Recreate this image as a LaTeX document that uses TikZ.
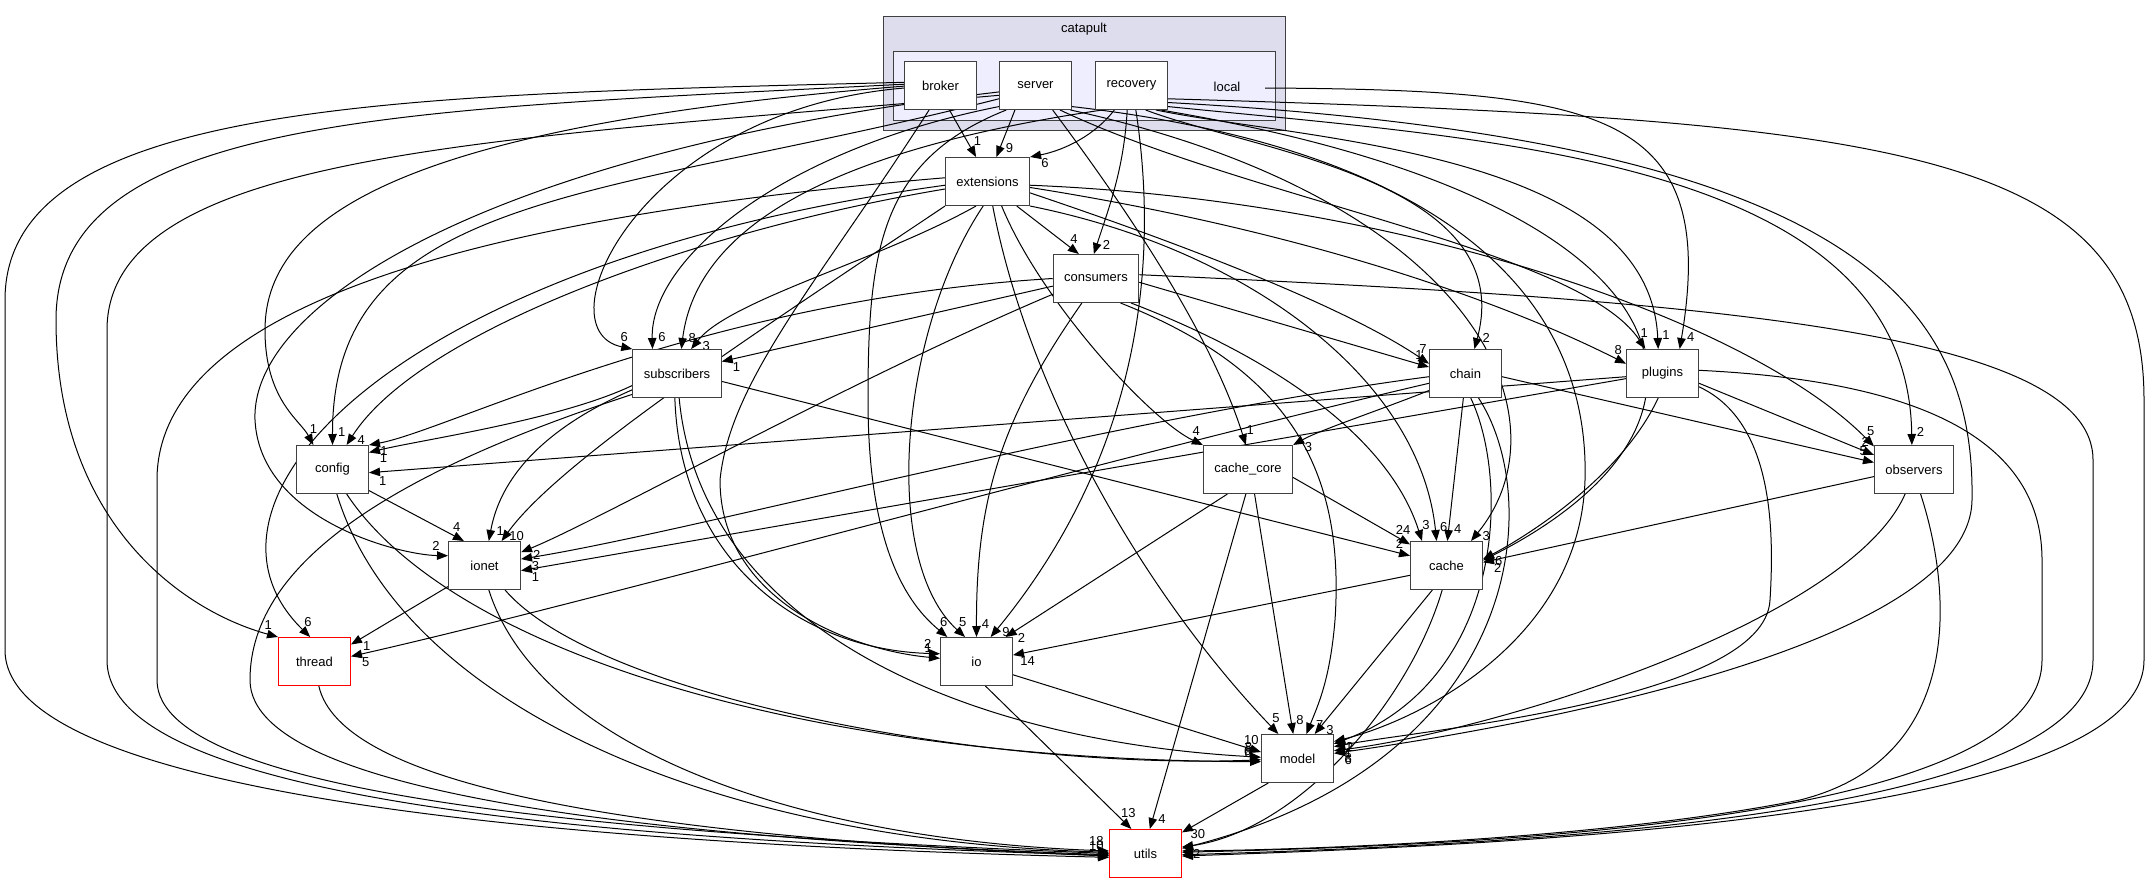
\documentclass[tikz,border=0pt]{standalone}
\usepackage{fontspec}
\setmainfont{Liberation Sans}
\usetikzlibrary{arrows.meta,decorations.markings,backgrounds}
\definecolor{clouter}{HTML}{DDDDEE}
\definecolor{clinner}{HTML}{EEEEFF}
\begin{document}
\begin{tikzpicture}[x=1pt,y=1pt,
  dirnode/.style={draw=black!75, line width=1pt, fill=white, minimum width=72pt, minimum height=48pt, inner xsep=11pt, inner ysep=0pt, font=\fontsize{13}{15}\selectfont},
  rednode/.style={dirnode, draw=red},
  dep/.style={draw=black, line width=1pt, -{Triangle[length=11pt,width=8.5pt]}},
  labf/.style={inner sep=0pt, font=\fontsize{13}{15}\selectfont},
  lb/.style={postaction={decorate}, decoration={markings, mark=at position -13pt with {\node[labf] at (0,9pt) {#1};}}},
  cltext/.style={font=\fontsize{13}{15}\selectfont, inner sep=0pt},
]
\useasboundingbox (0,0) rectangle (2149,-883);

% nodes
\node[dirnode] (broker) at (940.5,-85.5) {broker};
\node[dirnode] (server) at (1035.5,-85.5) {server};
\node[dirnode] (recovery) at (1131.5,-85.5) {recovery};
\node[cltext] (local) at (1227,-87) {local};
\coordinate (localpt) at (1265,-88);
\node[cltext] (catapult) at (1084,-29) {catapult};
\node[dirnode] (extensions) at (987.5,-181.5) {extensions};
\node[dirnode] (consumers) at (1096,-278.5) {consumers};
\node[dirnode] (subscribers) at (677,-373.5) {subscribers};
\node[dirnode] (chain) at (1465.5,-373.5) {chain};
\node[dirnode] (plugins) at (1662.5,-373.5) {plugins};
\node[dirnode] (config) at (332.5,-469.5) {config};
\node[dirnode] (cache_core) at (1248,-469.5) {cache\_core};
\node[dirnode] (observers) at (1914,-469.5) {observers};
\node[dirnode] (ionet) at (484.5,-565.5) {ionet};
\node[dirnode] (cache) at (1446.5,-565.5) {cache};
\node[rednode] (thread) at (314.5,-661.5) {thread};
\node[dirnode] (io) at (976.5,-661.5) {io};
\node[dirnode] (model) at (1297.5,-758.5) {model};
\node[rednode] (utils) at (1145.5,-853.5) {utils};

\begin{scope}[on background layer]
\filldraw[fill=clouter, draw=black!75, line width=1pt] (883.5,-16.5) rectangle (1285.5,-130.5);
\filldraw[fill=clinner, draw=black!75, line width=1pt] (893.5,-51.5) rectangle (1275.5,-120.5);

% cluster internal
\draw[dep,lb=1] (broker.-70) -- (extensions.115);
\draw[dep,lb=9] (server.-130) -- (extensions.70);
\draw[dep,lb=6] (recovery.-125) .. controls (1095,-135) and (1065,-150) .. (extensions.north east);
\draw[dep,lb=2] (recovery.-100) .. controls (1124,-170) and (1108,-210) .. (consumers.95);
\draw[dep,lb=4] (extensions.-40) -- (consumers.125);
\draw[dep,lb=4] (localpt) .. controls (1600,-90) and (1720,-110) .. (plugins.55);

% broker
\draw[dep] (broker.175) .. controls (400,-95) and (5,-100) .. (5,-300) -- (5,-650) .. controls (5,-800) and (600,-845) .. (utils.186);
\draw[dep,lb=1] (broker.178) .. controls (400,-110) and (56,-115) .. (56,-320) .. controls (56,-520) and (180,-610) .. (thread.north west);
\draw[dep,lb=1] (broker.181) .. controls (420,-125) and (265,-210) .. (265,-330) .. controls (265,-400) and (300,-420) .. (config.128);
\draw[dep,lb=6] (broker.184) .. controls (640,-110) and (540,-330) .. (subscribers.north west);
\draw[dep,lb=1] (broker.-115) .. controls (820,-280) and (730,-380) .. (720,-480) .. controls (720,-600) and (850,-650) .. (io.175);

% server
\draw[dep] (server.-165) .. controls (500,-140) and (107,-150) .. (107,-330) -- (107,-660) .. controls (107,-800) and (600,-840) .. (utils.183);
\draw[dep,lb=1] (server.-160) .. controls (600,-200) and (332,-190) .. (config.north);
\draw[dep,lb=2] (server.-170) .. controls (500,-150) and (250,-300) .. (255,-420) .. controls (260,-520) and (400,-555) .. (ionet.165);
\draw[dep,lb=6] (server.-150) .. controls (780,-150) and (650,-260) .. (subscribers.135);
\draw[dep,lb=6] (server.-140) .. controls (880,-160) and (868,-250) .. (868,-400) .. controls (868,-560) and (915,-610) .. (io.140);
\draw[dep,lb=1] (server.-55) .. controls (1120,-200) and (1210,-330) .. (cache_core.95);
\draw[dep,lb=3] (server.-35) .. controls (1480,-200) and (1570,-420) .. (cache.45);
\draw[dep,lb=1] (server.-30) .. controls (1450,-150) and (1590,-300) .. (1585,-480) .. controls (1580,-640) and (1420,-720) .. (model.25);
\draw[dep,lb=1] (server.-45) .. controls (1250,-200) and (1580,-250) .. (plugins.125);

% recovery
\draw[dep,lb=8] (recovery.-140) .. controls (900,-140) and (700,-200) .. (subscribers.80);
\draw[dep,lb=9] (recovery.-80) .. controls (1165,-300) and (1120,-480) .. (io.60);
\draw[dep,lb=2] (recovery.-60) .. controls (1250,-150) and (1520,-180) .. (chain.70);
\draw[dep,lb=1] (recovery.-45) .. controls (1300,-140) and (1650,-150) .. (plugins.100);
\draw[dep,lb=2] (recovery.-30) .. controls (1500,-140) and (1908,-160) .. (observers.95);
\draw[dep] (recovery.-20) .. controls (1900,-120) and (2144,-150) .. (2144,-400) -- (2144,-660) .. controls (2144,-820) and (1500,-845) .. (utils.-4);
\draw[dep,lb=6] (recovery.-25) .. controls (1850,-140) and (1975,-300) .. (1972,-500) .. controls (1970,-650) and (1500,-730) .. (model.8);
\draw[dep] (recovery.-40) .. controls (1700,-200) and (1760,-420) .. (cache.8);

% extensions
\draw[dep,lb=3] (extensions.-115) .. controls (880,-260) and (730,-300) .. (subscribers.60);
\draw[dep,lb=4] (extensions.190) .. controls (700,-230) and (420,-330) .. (config.60);
\draw[dep,lb=6] (extensions.185) .. controls (400,-260) and (170,-500) .. (thread.100);
\draw[dep] (extensions.175) .. controls (500,-215) and (157,-300) .. (157,-480) -- (157,-680) .. controls (157,-800) and (650,-835) .. (utils.180);
\draw[dep,lb=10] (extensions.-150) .. controls (760,-330) and (560,-460) .. (ionet.55);
\draw[dep,lb=5] (extensions.-100) .. controls (900,-330) and (880,-560) .. (io.115);
\draw[dep,lb=5] (extensions.-78) .. controls (1030,-400) and (1150,-600) .. (model.128);
\draw[dep,lb=4] (extensions.-60) .. controls (1040,-300) and (1150,-420) .. (cache_core.north west);
\draw[dep,lb=7] (extensions.-15) .. controls (1200,-250) and (1350,-310) .. (chain.165);
\draw[dep,lb=8] (extensions.-8) .. controls (1300,-230) and (1500,-300) .. (plugins.165);
\draw[dep,lb=5] (extensions.-5) .. controls (1400,-200) and (1750,-320) .. (observers.150);
\draw[dep,lb=6] (extensions.-30) .. controls (1250,-250) and (1420,-380) .. (cache.112);

% consumers
\draw[dep,lb=1] (consumers.190) -- (subscribers.15);
\draw[dep,lb=1] (consumers.180) .. controls (700,-300) and (450,-430) .. (config.north east);
\draw[dep,lb=2] (consumers.200) .. controls (850,-380) and (600,-520) .. (ionet.20);
\draw[dep,lb=4] (consumers.-120) .. controls (1000,-420) and (976,-500) .. (io.north);
\draw[dep,lb=1] (consumers.-5) -- (chain.170);
\draw[dep,lb=3] (consumers.-35) .. controls (1280,-360) and (1390,-440) .. (cache.135);
\draw[dep,lb=7] (consumers.-45) .. controls (1290,-370) and (1345,-470) .. (1335,-620) .. controls (1330,-680) and (1318,-705) .. (model.70);
\draw[dep] (consumers.5) .. controls (1700,-300) and (2093,-330) .. (2093,-460) -- (2093,-660) .. controls (2093,-820) and (1500,-845) .. (utils.-2);

% subscribers
\draw[dep,lb=1] (subscribers.195) .. controls (560,-420) and (420,-440) .. (config.25);
\draw[dep,lb=1] (subscribers.200) .. controls (540,-430) and (500,-480) .. (ionet.80);
\draw[dep,lb=2] (subscribers.-95) .. controls (680,-560) and (800,-650) .. (io.168);
\draw[dep,lb=8] (subscribers.-85) .. controls (700,-620) and (950,-740) .. (model.178);
\draw[dep] (subscribers.205) .. controls (400,-470) and (250,-560) .. (250,-680) .. controls (250,-800) and (700,-840) .. (utils.182);
\draw[dep,lb=2] (subscribers.-10) -- (cache.165);

% chain
\draw[dep,lb=3] (chain.185) .. controls (1100,-420) and (700,-530) .. (ionet.10);
\draw[dep,lb=5] (chain.195) .. controls (1100,-460) and (600,-600) .. (thread.8);
\draw[dep,lb=3] (chain.205) .. controls (1380,-410) and (1320,-430) .. (cache_core.north east);
\draw[dep,lb=4] (chain.-95) -- (cache.88);
\draw[dep,lb=2] (chain.-78) .. controls (1510,-480) and (1505,-680) .. (model.22);
\draw[dep] (chain.-62) .. controls (1545,-500) and (1525,-760) .. (utils.8);
\draw[dep,lb=5] (chain.-5) -- (observers.170);

% plugins
\draw[dep,lb=1] (plugins.185) -- (config.-5);
\draw[dep,lb=1] (plugins.188) -- (ionet.-8);
\draw[dep,lb=6] (plugins.-100) .. controls (1620,-480) and (1520,-540) .. (cache.10);
\draw[dep,lb=2] (plugins.-15) -- (observers.160);
\draw[dep,lb=1] (plugins.-20) .. controls (1770,-420) and (1775,-520) .. (1770,-600) .. controls (1765,-700) and (1420,-730) .. (model.18);
\draw[dep] (plugins.5) .. controls (1900,-380) and (2042,-430) .. (2042,-560) -- (2042,-660) .. controls (2042,-820) and (1500,-845) .. (utils.2);

% observers
\draw[dep,lb=2] (observers.190) -- (cache.5);
\draw[dep,lb=8] (observers.-110) .. controls (1850,-620) and (1500,-730) .. (model.12);
\draw[dep] (observers.-75) .. controls (1955,-600) and (1960,-760) .. (1800,-800) .. controls (1600,-840) and (1300,-850) .. (utils.4);

% config
\draw[dep,lb=4] (config.-30) -- (ionet.130);
\draw[dep,lb=6] (config.-60) .. controls (450,-650) and (800,-760) .. (model.185);
\draw[dep] (config.-80) .. controls (400,-700) and (700,-840) .. (utils.178);

% cache_core
\draw[dep,lb=2] (cache_core.-130) -- (io.40);
\draw[dep,lb=8] (cache_core.-75) -- (model.100);
\draw[dep,lb=4] (cache_core.-95) -- (utils.80);
\draw[dep,lb=24] (cache_core.-10) -- (cache.150);

% ionet
\draw[dep,lb=1] (ionet.-150) -- (thread.25);
\draw[dep,lb=6] (ionet.-50) .. controls (600,-700) and (1000,-770) .. (model.182);
\draw[dep,lb=18] (ionet.-80) .. controls (540,-750) and (800,-840) .. (utils.176);

% cache
\draw[dep,lb=14] (cache.195) -- (io.10);
\draw[dep,lb=3] (cache.-120) -- (model.55);
\draw[dep,lb=2] (cache.-100) .. controls (1410,-700) and (1300,-830) .. (utils.10);

% thread
\draw[dep,lb=10] (thread.-80) .. controls (340,-780) and (600,-835) .. (utils.184);

% io
\draw[dep,lb=10] (io.-20) -- (model.170);
\draw[dep,lb=13] (io.-70) -- (utils.120);

% model
\draw[dep,lb=30] (model.-140) -- (utils.30);
\end{scope}
\end{tikzpicture}
\end{document}
